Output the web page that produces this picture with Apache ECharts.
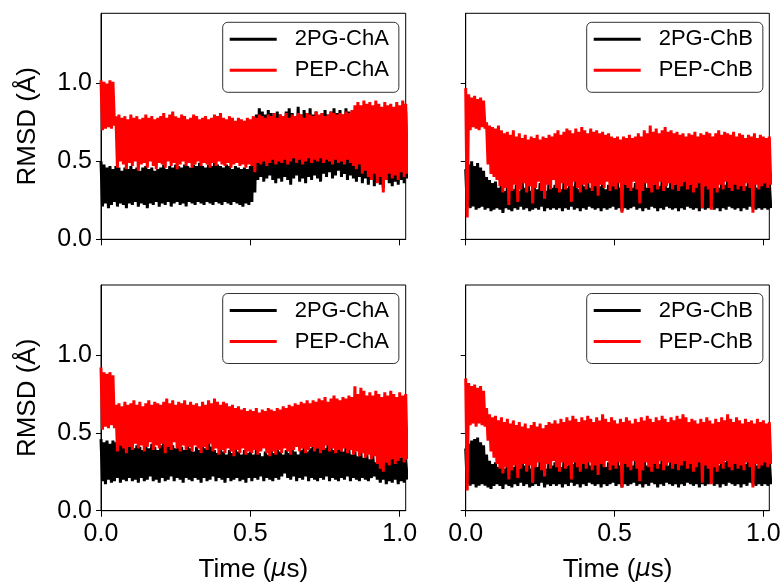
<!DOCTYPE html>
<html>
<head>
<meta charset="utf-8">
<script src="https://cdn.jsdelivr.net/npm/echarts@6/dist/echarts.min.js"></script>
<style>html,body{margin:0;padding:0;background:#fff}#c{width:784px;height:584px}</style>
</head>
<body>
<div id="c"></div>
<script>
// ---- Data (RMSD in Å, sampled every 0.01 µs; upper / lower envelope of each trace) ----
const time = Array.from({length: 103}, (_, i) => +(i * 0.01).toFixed(2));
const xTicks = [0, 0.5, 1.0];
const yTicks = [0, 0.5, 1.0];
const legendNamesA = ['2PG-ChA', 'PEP-ChA'];
const legendNamesB = ['2PG-ChB', 'PEP-ChB'];

// Top-left: 2PG-ChA / PEP-ChA
const g2pgA1_hi = [0.50,0.48,0.46,0.47,0.45,0.47,0.46,0.44,0.46,0.45,
  0.47,0.45,0.46,0.44,0.46,0.47,0.45,0.46,0.44,0.45,
  0.46,0.48,0.45,0.47,0.46,0.48,0.47,0.46,0.48,0.47,
  0.46,0.48,0.47,0.49,0.47,0.46,0.48,0.47,0.49,0.48,
  0.47,0.46,0.48,0.47,0.45,0.47,0.46,0.45,0.46,0.45,
  0.47,0.78,0.80,0.84,0.82,0.80,0.83,0.81,0.79,0.82,
  0.80,0.78,0.82,0.84,0.81,0.79,0.85,0.80,0.83,0.81,
  0.84,0.80,0.82,0.79,0.81,0.83,0.80,0.82,0.84,0.81,
  0.83,0.80,0.84,0.82,0.80,0.81,0.80,0.82,0.81,0.80,
  0.82,0.81,0.80,0.82,0.81,0.80,0.82,0.81,0.80,0.82,
  0.81,0.80,0.82];
const g2pgA1_lo = [0.21,0.23,0.20,0.22,0.24,0.21,0.23,0.22,0.20,0.23,
  0.22,0.24,0.21,0.23,0.22,0.20,0.23,0.22,0.24,0.21,
  0.23,0.22,0.24,0.21,0.23,0.24,0.22,0.23,0.21,0.24,
  0.23,0.22,0.24,0.23,0.22,0.24,0.23,0.22,0.24,0.23,
  0.22,0.24,0.23,0.22,0.24,0.23,0.22,0.21,0.23,0.22,
  0.24,0.30,0.38,0.40,0.37,0.39,0.41,0.38,0.36,0.39,
  0.37,0.40,0.38,0.35,0.39,0.41,0.37,0.39,0.36,0.40,
  0.38,0.41,0.39,0.37,0.42,0.40,0.43,0.39,0.41,0.44,
  0.40,0.42,0.38,0.41,0.39,0.37,0.40,0.36,0.39,0.35,
  0.38,0.34,0.37,0.35,0.33,0.38,0.36,0.34,0.37,0.35,
  0.38,0.36,0.39];
const pepA1_hi = [1.02,1.01,1.00,1.02,1.01,0.79,0.80,0.78,0.79,0.77,
  0.80,0.78,0.79,0.77,0.78,0.80,0.78,0.79,0.77,0.78,
  0.79,0.81,0.78,0.80,0.82,0.79,0.78,0.80,0.79,0.77,
  0.78,0.80,0.79,0.77,0.78,0.79,0.77,0.78,0.80,0.79,
  0.81,0.78,0.77,0.79,0.78,0.76,0.78,0.77,0.76,0.78,
  0.77,0.79,0.78,0.80,0.79,0.78,0.80,0.79,0.81,0.78,
  0.80,0.79,0.81,0.78,0.80,0.79,0.81,0.80,0.78,0.81,
  0.80,0.79,0.82,0.80,0.81,0.79,0.80,0.82,0.81,0.80,
  0.81,0.80,0.82,0.81,0.83,0.86,0.88,0.86,0.89,0.87,
  0.88,0.86,0.89,0.87,0.85,0.88,0.86,0.87,0.85,0.88,
  0.86,0.89,0.87];
const pepA1_lo = [0.70,0.71,0.72,0.71,0.73,0.46,0.50,0.48,0.45,0.49,
  0.47,0.50,0.44,0.48,0.49,0.46,0.50,0.47,0.45,0.49,
  0.48,0.46,0.50,0.47,0.49,0.45,0.48,0.50,0.47,0.49,
  0.46,0.48,0.50,0.47,0.49,0.48,0.46,0.49,0.47,0.50,
  0.48,0.47,0.49,0.46,0.48,0.49,0.47,0.48,0.46,0.48,
  0.47,0.43,0.49,0.48,0.50,0.47,0.49,0.51,0.48,0.50,
  0.49,0.51,0.48,0.50,0.52,0.49,0.51,0.48,0.50,0.52,
  0.49,0.51,0.50,0.52,0.49,0.51,0.50,0.48,0.51,0.49,
  0.50,0.48,0.51,0.49,0.47,0.45,0.48,0.42,0.44,0.40,
  0.38,0.42,0.36,0.40,0.30,0.38,0.42,0.39,0.41,0.38,
  0.43,0.40,0.42];

// Top-right: 2PG-ChB / PEP-ChB
const g2pgB1_hi = [0.45,0.48,0.50,0.47,0.49,0.46,0.44,0.40,0.38,0.36,
  0.37,0.33,0.36,0.31,0.34,0.38,0.32,0.35,0.31,0.36,
  0.33,0.37,0.31,0.35,0.32,0.36,0.34,0.31,0.37,0.33,
  0.35,0.39,0.32,0.36,0.33,0.37,0.34,0.38,0.32,0.36,
  0.34,0.37,0.33,0.36,0.39,0.34,0.37,0.32,0.35,0.38,
  0.34,0.37,0.33,0.41,0.35,0.38,0.33,0.36,0.39,0.34,
  0.37,0.33,0.40,0.35,0.38,0.34,0.39,0.36,0.33,0.41,
  0.35,0.38,0.34,0.37,0.40,0.35,0.38,0.33,0.36,0.39,
  0.34,0.38,0.35,0.40,0.36,0.33,0.38,0.35,0.39,0.34,
  0.37,0.40,0.35,0.38,0.34,0.39,0.36,0.38,0.33,0.37,
  0.36,0.39,0.37];
const g2pgB1_lo = [0.21,0.20,0.21,0.19,0.20,0.21,0.19,0.20,0.18,0.19,
  0.20,0.19,0.17,0.20,0.19,0.18,0.20,0.19,0.21,0.19,
  0.20,0.18,0.19,0.20,0.19,0.21,0.18,0.20,0.19,0.20,
  0.19,0.20,0.18,0.20,0.19,0.21,0.19,0.20,0.18,0.20,
  0.19,0.21,0.20,0.19,0.20,0.18,0.20,0.19,0.20,0.21,
  0.19,0.20,0.18,0.20,0.19,0.20,0.21,0.19,0.20,0.18,
  0.20,0.19,0.21,0.20,0.18,0.20,0.19,0.21,0.20,0.19,
  0.20,0.18,0.20,0.19,0.21,0.20,0.19,0.20,0.18,0.20,
  0.19,0.20,0.21,0.19,0.20,0.18,0.20,0.19,0.21,0.20,
  0.19,0.20,0.18,0.20,0.19,0.21,0.20,0.19,0.20,0.19,
  0.20,0.19,0.20];
const pepB1_hi = [0.97,0.93,0.91,0.92,0.90,0.91,0.89,0.75,0.73,0.72,
  0.71,0.73,0.70,0.68,0.69,0.67,0.70,0.66,0.68,0.65,
  0.67,0.64,0.66,0.65,0.67,0.64,0.66,0.65,0.67,0.66,
  0.68,0.70,0.67,0.69,0.71,0.70,0.68,0.71,0.69,0.72,
  0.70,0.68,0.71,0.69,0.70,0.68,0.69,0.67,0.68,0.66,
  0.65,0.66,0.64,0.66,0.65,0.67,0.65,0.66,0.68,0.66,
  0.70,0.68,0.73,0.69,0.71,0.68,0.70,0.72,0.69,0.70,
  0.68,0.69,0.67,0.68,0.66,0.68,0.67,0.69,0.66,0.68,
  0.67,0.69,0.68,0.66,0.68,0.70,0.67,0.69,0.68,0.67,
  0.69,0.66,0.68,0.67,0.65,0.67,0.66,0.68,0.65,0.67,
  0.66,0.65,0.66];
const pepB1_lo = [0.14,0.70,0.72,0.71,0.70,0.72,0.71,0.48,0.42,0.40,
  0.38,0.34,0.30,0.33,0.22,0.31,0.35,0.24,0.32,0.36,
  0.30,0.34,0.23,0.33,0.37,0.31,0.26,0.35,0.32,0.38,
  0.33,0.30,0.36,0.32,0.34,0.24,0.37,0.33,0.30,0.35,
  0.32,0.36,0.31,0.34,0.28,0.35,0.33,0.37,0.31,0.34,
  0.32,0.36,0.17,0.35,0.33,0.31,0.37,0.32,0.23,0.31,
  0.36,0.33,0.30,0.35,0.32,0.37,0.31,0.34,0.36,0.32,
  0.35,0.31,0.34,0.37,0.32,0.35,0.30,0.33,0.36,0.20,
  0.34,0.32,0.19,0.33,0.30,0.35,0.32,0.37,0.33,0.31,
  0.35,0.32,0.34,0.31,0.36,0.33,0.17,0.35,0.32,0.34,
  0.36,0.33,0.35];

// Bottom-left: 2PG-ChA / PEP-ChA
const g2pgA2_hi = [0.46,0.44,0.45,0.43,0.45,0.44,0.43,0.42,0.44,0.41,
  0.43,0.40,0.42,0.41,0.39,0.42,0.40,0.43,0.41,0.39,
  0.42,0.44,0.41,0.45,0.42,0.40,0.43,0.41,0.39,0.42,
  0.40,0.38,0.41,0.39,0.42,0.40,0.46,0.41,0.39,0.37,
  0.40,0.38,0.36,0.39,0.37,0.40,0.38,0.36,0.39,0.37,
  0.38,0.36,0.39,0.37,0.35,0.38,0.36,0.39,0.37,0.40,
  0.38,0.36,0.39,0.37,0.40,0.38,0.36,0.39,0.41,0.38,
  0.40,0.43,0.41,0.44,0.42,0.40,0.43,0.41,0.39,0.42,
  0.40,0.38,0.41,0.39,0.36,0.38,0.35,0.37,0.34,0.36,
  0.33,0.35,0.31,0.30,0.32,0.34,0.31,0.33,0.35,0.32,
  0.34,0.36,0.33];
const g2pgA2_lo = [0.19,0.17,0.20,0.18,0.19,0.21,0.18,0.20,0.19,0.21,
  0.19,0.20,0.18,0.21,0.19,0.20,0.22,0.19,0.20,0.18,
  0.21,0.19,0.20,0.22,0.19,0.21,0.20,0.18,0.21,0.20,
  0.19,0.21,0.20,0.18,0.21,0.19,0.20,0.22,0.19,0.21,
  0.20,0.18,0.21,0.19,0.20,0.21,0.19,0.20,0.18,0.21,
  0.19,0.21,0.20,0.22,0.19,0.21,0.20,0.19,0.21,0.20,
  0.22,0.24,0.21,0.20,0.22,0.19,0.21,0.20,0.22,0.19,
  0.21,0.20,0.19,0.21,0.20,0.22,0.19,0.21,0.20,0.19,
  0.21,0.20,0.22,0.19,0.21,0.20,0.19,0.21,0.20,0.19,
  0.21,0.22,0.20,0.18,0.20,0.17,0.19,0.18,0.20,0.17,
  0.19,0.18,0.20];
const pepA2_hi = [0.92,0.89,0.88,0.89,0.87,0.68,0.69,0.67,0.70,0.68,
  0.69,0.71,0.68,0.70,0.67,0.69,0.71,0.68,0.70,0.69,
  0.68,0.70,0.72,0.69,0.71,0.68,0.70,0.69,0.71,0.68,
  0.70,0.68,0.69,0.67,0.70,0.68,0.71,0.69,0.72,0.70,
  0.68,0.70,0.69,0.67,0.68,0.66,0.67,0.65,0.66,0.64,
  0.65,0.64,0.66,0.63,0.65,0.64,0.66,0.65,0.64,0.66,
  0.65,0.67,0.66,0.68,0.67,0.69,0.68,0.70,0.69,0.71,
  0.69,0.71,0.70,0.72,0.71,0.73,0.70,0.72,0.74,0.72,
  0.71,0.73,0.72,0.74,0.73,0.80,0.75,0.79,0.77,0.74,
  0.76,0.74,0.77,0.75,0.73,0.76,0.74,0.77,0.75,0.73,
  0.76,0.74,0.75];
const pepA2_lo = [0.52,0.54,0.53,0.55,0.53,0.38,0.42,0.40,0.37,0.41,
  0.39,0.43,0.40,0.42,0.38,0.41,0.44,0.39,0.42,0.40,
  0.43,0.37,0.41,0.39,0.44,0.40,0.38,0.42,0.39,0.41,
  0.38,0.42,0.40,0.37,0.41,0.39,0.43,0.38,0.40,0.36,
  0.39,0.37,0.40,0.38,0.35,0.39,0.37,0.40,0.36,0.38,
  0.37,0.39,0.36,0.38,0.40,0.37,0.35,0.38,0.36,0.39,
  0.37,0.40,0.38,0.36,0.39,0.41,0.38,0.40,0.37,0.39,
  0.41,0.38,0.40,0.37,0.39,0.42,0.38,0.40,0.37,0.39,
  0.38,0.40,0.37,0.39,0.36,0.38,0.35,0.37,0.34,0.36,
  0.33,0.35,0.30,0.27,0.25,0.31,0.29,0.33,0.30,0.32,
  0.34,0.31,0.33];

// Bottom-right: 2PG-ChB / PEP-ChB
const g2pgB2_hi = [0.40,0.43,0.45,0.46,0.47,0.44,0.42,0.36,0.32,0.30,
  0.31,0.28,0.32,0.27,0.30,0.33,0.28,0.31,0.27,0.32,
  0.29,0.33,0.27,0.31,0.28,0.32,0.30,0.27,0.33,0.29,
  0.31,0.34,0.28,0.32,0.29,0.33,0.30,0.34,0.28,0.32,
  0.30,0.33,0.29,0.32,0.35,0.30,0.33,0.28,0.31,0.34,
  0.30,0.33,0.29,0.36,0.31,0.34,0.29,0.32,0.35,0.30,
  0.33,0.29,0.35,0.31,0.34,0.30,0.35,0.32,0.29,0.36,
  0.31,0.34,0.30,0.33,0.36,0.31,0.34,0.29,0.32,0.35,
  0.30,0.34,0.31,0.35,0.32,0.29,0.34,0.31,0.35,0.30,
  0.33,0.35,0.31,0.34,0.30,0.35,0.32,0.34,0.29,0.33,
  0.32,0.35,0.33];
const g2pgB2_lo = [0.17,0.16,0.17,0.15,0.16,0.17,0.16,0.15,0.14,0.16,
  0.17,0.16,0.14,0.17,0.16,0.15,0.17,0.16,0.18,0.16,
  0.17,0.15,0.16,0.17,0.16,0.18,0.15,0.17,0.16,0.17,
  0.16,0.17,0.15,0.17,0.16,0.18,0.16,0.17,0.15,0.17,
  0.16,0.18,0.17,0.16,0.17,0.15,0.17,0.16,0.17,0.18,
  0.16,0.17,0.15,0.17,0.16,0.17,0.18,0.16,0.17,0.15,
  0.17,0.16,0.18,0.17,0.15,0.17,0.16,0.18,0.17,0.16,
  0.17,0.15,0.17,0.16,0.18,0.17,0.16,0.17,0.15,0.17,
  0.16,0.17,0.18,0.16,0.17,0.15,0.17,0.16,0.18,0.17,
  0.16,0.17,0.15,0.17,0.16,0.18,0.17,0.16,0.17,0.16,
  0.17,0.16,0.17];
const pepB2_hi = [0.85,0.82,0.80,0.81,0.79,0.80,0.77,0.66,0.62,0.60,
  0.61,0.58,0.60,0.57,0.59,0.56,0.58,0.55,0.57,0.54,
  0.56,0.53,0.55,0.57,0.54,0.56,0.53,0.55,0.57,0.56,
  0.58,0.56,0.59,0.57,0.60,0.58,0.61,0.59,0.57,0.60,
  0.58,0.61,0.59,0.57,0.60,0.58,0.62,0.59,0.57,0.60,
  0.58,0.56,0.59,0.57,0.60,0.58,0.56,0.59,0.57,0.60,
  0.58,0.61,0.59,0.57,0.60,0.58,0.61,0.59,0.57,0.60,
  0.58,0.61,0.59,0.62,0.60,0.57,0.59,0.58,0.56,0.59,
  0.57,0.60,0.58,0.56,0.59,0.57,0.60,0.58,0.62,0.59,
  0.57,0.60,0.58,0.56,0.59,0.57,0.58,0.56,0.59,0.57,
  0.58,0.56,0.57];
const pepB2_lo = [0.13,0.55,0.56,0.54,0.56,0.55,0.54,0.45,0.38,0.34,
  0.30,0.27,0.24,0.28,0.20,0.26,0.29,0.21,0.27,0.30,
  0.25,0.29,0.18,0.28,0.31,0.26,0.22,0.30,0.27,0.32,
  0.28,0.25,0.31,0.27,0.29,0.20,0.31,0.28,0.25,0.30,
  0.27,0.31,0.26,0.29,0.23,0.30,0.28,0.32,0.26,0.29,
  0.27,0.31,0.15,0.30,0.28,0.26,0.32,0.27,0.19,0.26,
  0.31,0.28,0.25,0.30,0.27,0.32,0.26,0.29,0.31,0.27,
  0.30,0.26,0.29,0.32,0.27,0.30,0.25,0.28,0.31,0.18,
  0.29,0.27,0.17,0.28,0.25,0.30,0.27,0.32,0.28,0.26,
  0.30,0.27,0.29,0.26,0.31,0.28,0.15,0.30,0.27,0.29,
  0.31,0.28,0.30];

// ---- Chart ----
const FONT = '"Liberation Sans", Arial, Helvetica, sans-serif';
function trace(hi, lo) {
  const d = [];
  for (let i = 0; i < hi.length; i++) {
    d.push([time[i], hi[i]]);
    d.push([time[i] + 0.005, lo[i]]);
  }
  return d;
}
const grids = [
  {left: 101, top: 13.3, width: 304.7, height: 226},
  {left: 465.7, top: 13.3, width: 303.6, height: 226},
  {left: 101, top: 285, width: 304.7, height: 225.7},
  {left: 465.7, top: 285, width: 303.6, height: 225.7}
].map(g => Object.assign(g, {show: true, borderColor: '#000', borderWidth: 1, backgroundColor: '#fff', containLabel: false, outerBoundsMode: 'none'}));

const tickStyle = {lineStyle: {color: '#000', width: 1}};
function xAxis(i, showLabel) {
  return {
    type: 'value', gridIndex: i, min: 0, max: 1.02,
    axisLine: {show: true, onZero: false, lineStyle: {color: '#000', width: 1}},
    axisTick: Object.assign({show: true, length: 6, customValues: xTicks}, tickStyle),
    axisLabel: {show: showLabel, customValues: xTicks, formatter: v => v.toFixed(1), fontFamily: FONT, fontSize: 25, color: '#000', margin: 11},
    splitLine: {show: false},
    name: showLabel ? '{a|Time (}{b|μ}{a|s)}' : '',
    nameLocation: 'middle', nameGap: 46,
    nameTextStyle: {fontFamily: FONT, fontSize: 26, color: '#000',
      rich: {a: {fontFamily: FONT, fontSize: 26, color: '#000'}, b: {fontFamily: '"DejaVu Sans", sans-serif', fontStyle: 'italic', fontSize: 24, color: '#000'}}}
  };
}
function yAxis(i, showLabel) {
  return {
    type: 'value', gridIndex: i, min: 0, max: 1.45,
    axisLine: {show: true, onZero: false, lineStyle: {color: '#000', width: 1}},
    axisTick: Object.assign({show: true, length: 5, customValues: yTicks}, tickStyle),
    axisLabel: {show: showLabel, customValues: yTicks, formatter: v => v.toFixed(1), fontFamily: FONT, fontSize: 25, color: '#000', margin: 9},
    splitLine: {show: false},
    name: showLabel ? 'RMSD (Å)' : '',
    nameLocation: 'middle', nameGap: 60,
    nameTextStyle: {fontFamily: FONT, fontSize: 26, color: '#000'}
  };
}
function line(name, color, i, hi, lo) {
  return {
    type: 'line', name: name, xAxisIndex: i, yAxisIndex: i,
    data: trace(hi, lo), symbol: 'none', showSymbol: false,
    color: color, lineStyle: {color: color, width: 3, join: 'bevel'}, clip: true, animation: false
  };
}
function legend(left, top, names) {
  return {
    orient: 'vertical', left: left, top: top,
    data: names.map(n => ({name: n, icon: 'rect'})),
    itemWidth: 47, itemHeight: 3, itemGap: 7,
    padding: [5, 10, 10, 7],
    borderColor: '#333', borderWidth: 1, borderRadius: 5, backgroundColor: '#fff',
    selectedMode: false,
    textStyle: {fontFamily: FONT, fontSize: 22, color: '#000', lineHeight: 24, padding: [0, 0, 0, 13]}
  };
}

const chart = echarts.init(document.getElementById('c'), null, {renderer: 'canvas'});
chart.setOption({
  animation: false,
  backgroundColor: '#fff',
  grid: grids,
  xAxis: [xAxis(0, false), xAxis(1, false), xAxis(2, true), xAxis(3, true)],
  yAxis: [yAxis(0, true), yAxis(1, false), yAxis(2, true), yAxis(3, false)],
  legend: [
    legend(222.7, 22.3, legendNamesA),
    legend(586.7, 22.3, legendNamesB),
    legend(222.7, 293.5, legendNamesA),
    legend(586.7, 293.5, legendNamesB)
  ],
  series: [
    line('2PG-ChA', '#000000', 0, g2pgA1_hi, g2pgA1_lo),
    line('PEP-ChA', '#ff0000', 0, pepA1_hi, pepA1_lo),
    line('2PG-ChB', '#000000', 1, g2pgB1_hi, g2pgB1_lo),
    line('PEP-ChB', '#ff0000', 1, pepB1_hi, pepB1_lo),
    line('2PG-ChA', '#000000', 2, g2pgA2_hi, g2pgA2_lo),
    line('PEP-ChA', '#ff0000', 2, pepA2_hi, pepA2_lo),
    line('2PG-ChB', '#000000', 3, g2pgB2_hi, g2pgB2_lo),
    line('PEP-ChB', '#ff0000', 3, pepB2_hi, pepB2_lo)
  ]
});
</script>
</body>
</html>
